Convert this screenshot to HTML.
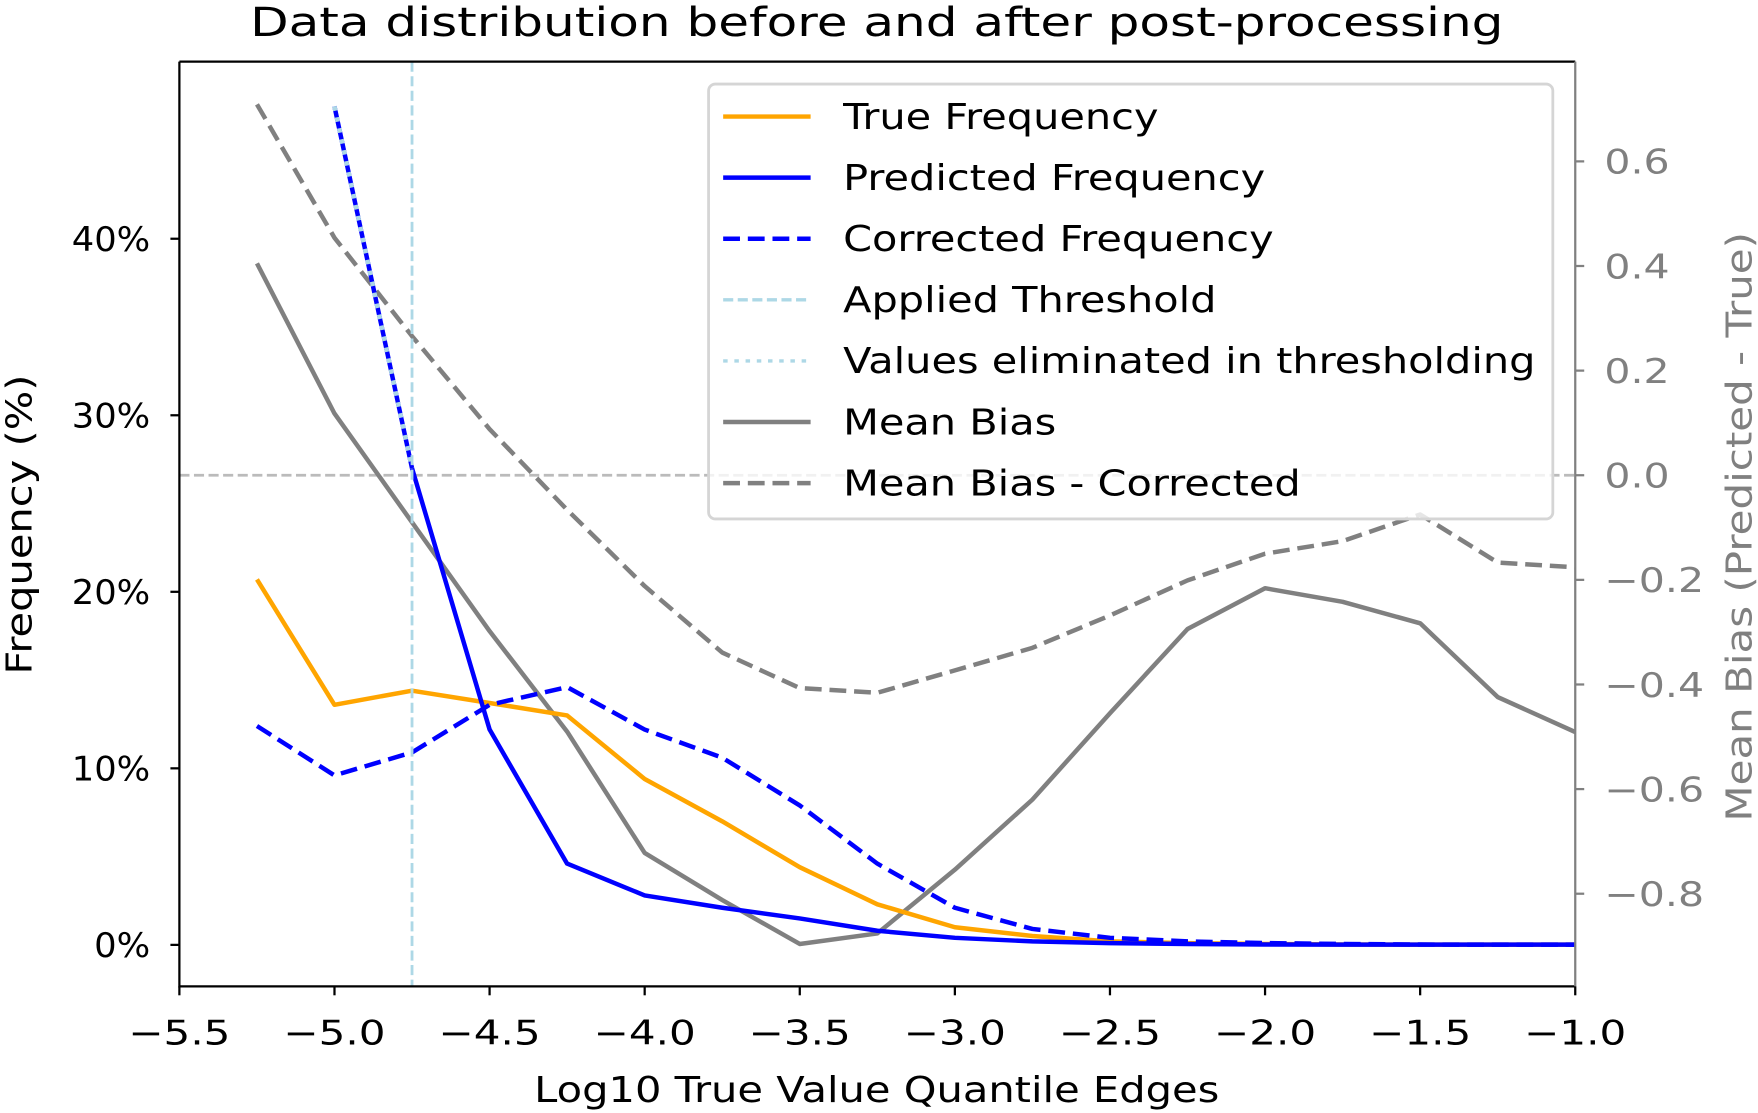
<!DOCTYPE html>
<html><head><meta charset="utf-8"><style>
html,body{margin:0;padding:0;background:#fff;}
svg{display:block;font-family:"DejaVu Sans","Liberation Sans",sans-serif;}
</style></head><body>
<svg id="chart" width="1758" height="1113" viewBox="0 0 1568 993" preserveAspectRatio="none" xmlns="http://www.w3.org/2000/svg">
<text id="title" x="782" y="32" font-size="36" text-anchor="middle">Data distribution before and after post-processing</text>
<g id="plot"></g>
</svg>
<script>
const xs = [-5.25,-5.0,-4.75,-4.5,-4.25,-4.0,-3.75,-3.5,-3.25,-3.0,-2.75,-2.5,-2.25,-2.0,-1.75,-1.5,-1.25,-1.0];
const trueFreq = [20.7,13.6,14.4,13.7,13.0,9.4,7.0,4.4,2.3,1.0,0.5,0.2,0.1,0.05,0.02,0.01,0.01,0.01];
const predX = [-5.0,-4.75,-4.5,-4.25,-4.0,-3.75,-3.5,-3.25,-3.0,-2.75,-2.5,-2.25,-2.0,-1.75,-1.5,-1.25,-1.0];
const predFreq = [47.5,27.0,12.2,4.6,2.8,2.1,1.5,0.8,0.4,0.2,0.1,0.05,0.02,0.01,0.01,0.01,0.01];
const elimX = [-5.0,-4.75];
const elimFreq = [47.5,27.0];
const corrFreq = [12.4,9.6,10.9,13.6,14.6,12.2,10.6,7.9,4.6,2.1,0.9,0.4,0.2,0.1,0.05,0.02,0.01,0.01];
const meanBias = [0.405,0.118,-0.09,-0.298,-0.49,-0.722,-0.812,-0.896,-0.876,-0.754,-0.62,-0.455,-0.294,-0.216,-0.242,-0.283,-0.424,-0.491];
const meanBiasCorr = [0.709,0.454,0.266,0.088,-0.066,-0.212,-0.339,-0.407,-0.416,-0.373,-0.33,-0.268,-0.201,-0.15,-0.126,-0.075,-0.167,-0.176];
const threshold = -4.75;
const xTicks = [-5.5,-5.0,-4.5,-4.0,-3.5,-3.0,-2.5,-2.0,-1.5,-1.0];
const yTicks = [0,10,20,30,40];
const y2Ticks = [0.6,0.4,0.2,0.0,-0.2,-0.4,-0.6,-0.8];

const L=160,R=1405,T=55,B=880;
const X=v=>L+(v+5.5)*(R-L)/4.5;
const Y=v=>843-v*15.75;
const Y2=v=>424-v*466.7;
const NS="http://www.w3.org/2000/svg";
const g=document.getElementById('plot');
function mk(tag,attrs,parent){const e=document.createElementNS(NS,tag);for(const k in attrs)e.setAttribute(k,attrs[k]);(parent||g).appendChild(e);return e;}
function fmt(v){return (v<0?'\u2212':'')+Math.abs(v).toFixed(1);}
function widen(el,f){try{const w=el.getComputedTextLength();el.setAttribute('textLength',(w*f).toFixed(1));el.setAttribute('lengthAdjust','spacingAndGlyphs');}catch(err){}}
widen(document.getElementById('title'),1.24);

let e=mk('line',{x1:L,x2:R,y1:Y2(0),y2:Y2(0),stroke:'#bbb','stroke-width':2.5,'stroke-dasharray':'9,4'});



function line(xv,yv,fy,color,dash,w,name){
  const p=xv.map((x,i)=>X(x).toFixed(1)+','+fy(yv[i]).toFixed(1)).join(' ');
  const el=mk('polyline',{points:p,fill:'none',stroke:color,'stroke-width':w,'stroke-dasharray':dash||'none','stroke-linejoin':'round'});
  
  
}
line(xs,meanBias,Y2,'#808080','',4,'mean-bias-line');
line(xs,meanBiasCorr,Y2,'#808080','15,7',4,'mean-bias-corrected-line');
line(xs,trueFreq,Y,'orange','',4,'true-frequency-line');
line(xs,corrFreq,Y,'blue','15,7',4,'corrected-frequency-line');
line(predX,predFreq,Y,'blue','',4,'predicted-frequency-line');
line(elimX,elimFreq,Y,'lightblue','4,6',4,'eliminated-values-line');
e=mk('line',{x1:X(threshold),x2:X(threshold),y1:T,y2:B,stroke:'lightblue','stroke-width':2.5,'stroke-dasharray':'9,4'});



e=mk('path',{d:`M${L},${T}V${B}H${R}M${L},${T}H${R}`,fill:'none',stroke:'#000','stroke-width':2});


e=mk('line',{x1:R,x2:R,y1:T,y2:B,stroke:'#808080','stroke-width':2});



xTicks.forEach(v=>{
  mk('line',{x1:X(v),x2:X(v),y1:B,y2:B+8,stroke:'#000','stroke-width':2});
  const t=mk('text',{x:X(v),y:B+52,'font-size':30,'text-anchor':'middle'});
  t.textContent=fmt(v);
  
  
  widen(t,1.25);
});
yTicks.forEach(v=>{
  mk('line',{x1:L-8,x2:L,y1:Y(v),y2:Y(v),stroke:'#000','stroke-width':2});
  const t=mk('text',{x:L-26,y:Y(v)+11,'font-size':30,'text-anchor':'end'});
  t.textContent=v+'%';
  
  
  widen(t,1.05);
});
y2Ticks.forEach(v=>{
  mk('line',{x1:R,x2:R+8,y1:Y2(v),y2:Y2(v),stroke:'#808080','stroke-width':2});
  const t=mk('text',{x:R+26,y:Y2(v)+11,'font-size':30,fill:'#808080'});
  t.textContent=fmt(v);
  
  
  widen(t,1.22);
});
let t=mk('text',{x:782,y:983,'font-size':32,'text-anchor':'middle'});t.textContent='Log10 True Value Quantile Edges';


widen(t,1.16);
t=mk('text',{x:0,y:0,'font-size':32,'text-anchor':'middle',transform:'translate(28,468) rotate(-90)'});t.textContent='Frequency (%)';


widen(t,1.16);
t=mk('text',{x:0,y:0,'font-size':32,'text-anchor':'middle',fill:'#808080',transform:'translate(1562,470) rotate(-90)'});t.textContent='Mean Bias (Predicted - True)';


widen(t,1.17);

const lg=mk('g',{});


mk('rect',{x:632,y:75,width:753,height:388,rx:6,fill:'rgba(255,255,255,0.8)',stroke:'#d5d5d5','stroke-width':2.5},lg);
const entries=[['True Frequency','orange',''],['Predicted Frequency','blue',''],['Corrected Frequency','blue','15,7'],['Applied Threshold','lightblue','9,4'],['Values eliminated in thresholding','lightblue','4,6'],['Mean Bias','#808080',''],['Mean Bias - Corrected','#808080','15,7']];
entries.forEach((en,i)=>{
  const y=104+i*54.5;
  const gg=mk('g',{},lg);
  
  
  mk('line',{x1:645,x2:723,y1:y,y2:y,stroke:en[1],'stroke-width':en[1]==='lightblue'?3:4,'stroke-dasharray':en[2]||'none'},gg);
  const tx=mk('text',{x:752,y:y+11,'font-size':32},gg);tx.textContent=en[0];
  widen(tx,1.156);
});
</script>
</body></html>
